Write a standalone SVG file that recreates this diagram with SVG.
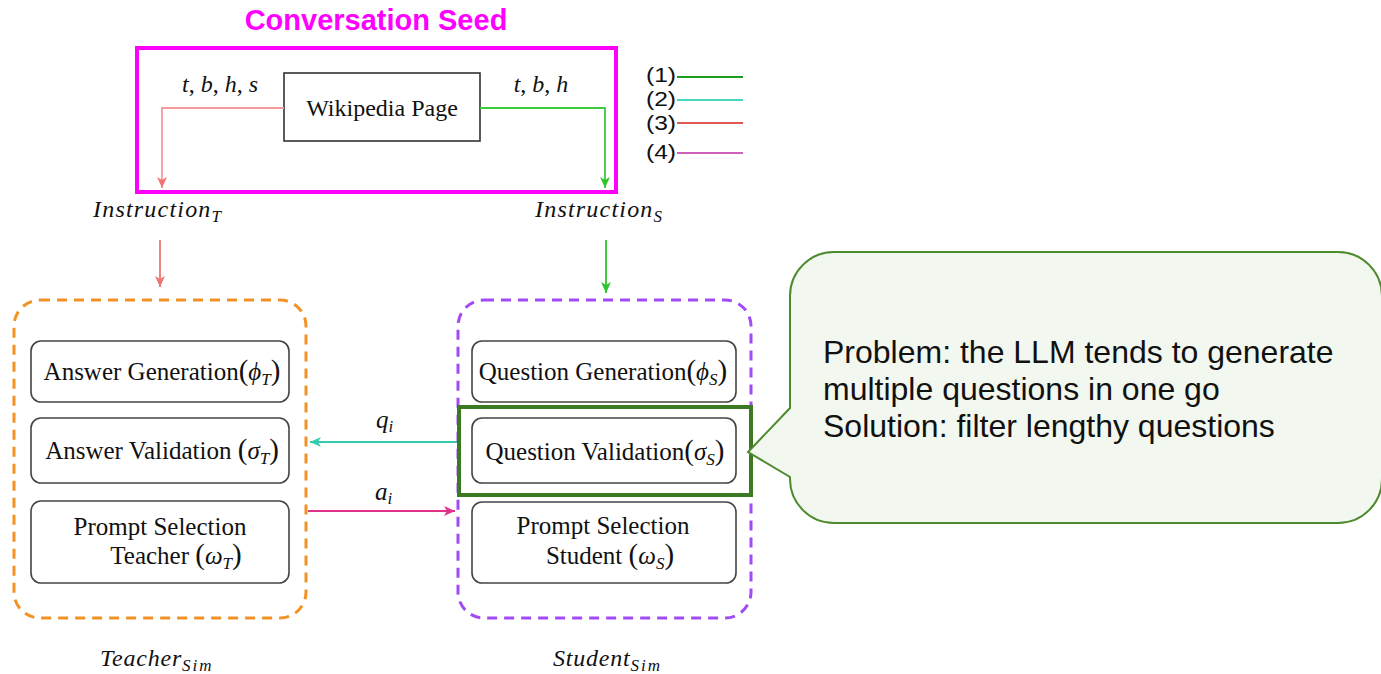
<svg xmlns="http://www.w3.org/2000/svg" width="1381" height="674" viewBox="0 0 1381 674">
  <style>
    .serif { font-family: "Liberation Serif", "DejaVu Serif", serif; fill: #111; }
    .sans { font-family: "Liberation Sans", Arial, sans-serif; fill: #111; }
    .box { fill: #fff; stroke: #444; stroke-width: 1.6; }
    .lbl { font-size: 24px; }
    .blbl { font-size: 25px; }
    .it { font-style: italic; }
    .par { font-size: 29px; }
    .sub { font-size: 17px; font-style: italic; }
    .math { font-size: 24px; font-style: italic; letter-spacing: 1.2px; }
    .conn { fill: none; stroke-width: 1.8; }
    .leg { stroke-width: 1.8; }
  </style>
  <defs>
    <marker id="ahRed" markerUnits="userSpaceOnUse" markerWidth="12" markerHeight="10" refX="11" refY="5" orient="auto">
      <path d="M0,0 L11,5 L0,10 L3,5 Z" fill="#F07474"/>
    </marker>
    <marker id="ahGreen" markerUnits="userSpaceOnUse" markerWidth="12" markerHeight="10" refX="11" refY="5" orient="auto">
      <path d="M0,0 L11,5 L0,10 L3,5 Z" fill="#2EC52E"/>
    </marker>
    <marker id="ahTeal" markerUnits="userSpaceOnUse" markerWidth="12" markerHeight="10" refX="11" refY="5" orient="auto">
      <path d="M0,0 L11,5 L0,10 L3,5 Z" fill="#36CBAE"/>
    </marker>
    <marker id="ahPink" markerUnits="userSpaceOnUse" markerWidth="12" markerHeight="10" refX="11" refY="5" orient="auto">
      <path d="M0,0 L11,5 L0,10 L3,5 Z" fill="#E2338A"/>
    </marker>
  </defs>

  <rect width="1381" height="674" fill="#fff"/>

  <!-- seed frame -->
  <g id="conversation-seed">
    <text x="376" y="30" text-anchor="middle" class="sans" style="font-size:29px;font-weight:bold;fill:#FF00FF">Conversation Seed</text>
    <rect x="137" y="48" width="479" height="144" fill="none" stroke="#FF00FF" stroke-width="4"/>
  </g>

  <g id="wikipedia-page">
    <rect x="284" y="73" width="196" height="68" fill="#fff" stroke="#333" stroke-width="1.6"/>
    <text x="382" y="116" text-anchor="middle" class="serif lbl">Wikipedia Page</text>
  </g>

  <!-- legend -->
  <g id="legend">
    <text x="646" y="82" class="sans" style="font-size:20px" textLength="30" lengthAdjust="spacingAndGlyphs">(1)</text>
    <text x="646" y="106" class="sans" style="font-size:20px" textLength="30" lengthAdjust="spacingAndGlyphs">(2)</text>
    <text x="646" y="130" class="sans" style="font-size:20px" textLength="30" lengthAdjust="spacingAndGlyphs">(3)</text>
    <text x="646" y="159" class="sans" style="font-size:20px" textLength="30" lengthAdjust="spacingAndGlyphs">(4)</text>
    <line x1="677" y1="77" x2="743" y2="77" class="leg" stroke="#1E9E1E"/>
    <line x1="677" y1="100" x2="743" y2="100" class="leg" stroke="#49D6C0"/>
    <line x1="677" y1="123" x2="743" y2="123" class="leg" stroke="#E05858"/>
    <line x1="677" y1="153" x2="743" y2="153" class="leg" stroke="#D060BE"/>
  </g>

  <!-- instruction labels -->
  <g id="instruction-t">
    <text x="93" y="217" class="serif math">Instruction<tspan class="sub" dy="5" style="letter-spacing:0">T</tspan></text>
  </g>
  <g id="instruction-s">
    <text x="535" y="217" class="serif math">Instruction<tspan class="sub" dy="5" style="letter-spacing:0">S</tspan></text>
  </g>

  <!-- connectors -->
  <g id="connectors">
    <path d="M284,108 H162 V188" class="conn" stroke="#F59A9A" marker-end="url(#ahRed)"/>
    <path d="M480,108 H605 V188" class="conn" stroke="#3DCB3D" marker-end="url(#ahGreen)"/>
    <path d="M160,240 V287" class="conn" stroke="#F07474" marker-end="url(#ahRed)"/>
    <path d="M606,240 V293" class="conn" stroke="#2EC52E" marker-end="url(#ahGreen)"/>
    <path d="M457,442 H310" class="conn" stroke="#36CBAE" marker-end="url(#ahTeal)"/>
    <path d="M308,511 H455" class="conn" stroke="#E2338A" marker-end="url(#ahPink)"/>
    <text x="220" y="92" text-anchor="middle" class="serif" style="font-size:24px"><tspan class="it">t</tspan>, <tspan class="it">b</tspan>, <tspan class="it">h</tspan>, <tspan class="it">s</tspan></text>
    <text x="541" y="92" text-anchor="middle" class="serif" style="font-size:24px"><tspan class="it">t</tspan>, <tspan class="it">b</tspan>, <tspan class="it">h</tspan></text>
    <text x="376" y="428" class="serif" style="font-size:25px"><tspan class="it">q</tspan><tspan class="sub" dy="4">i</tspan></text>
    <text x="375" y="500" class="serif" style="font-size:25px"><tspan class="it">a</tspan><tspan class="sub" dy="4">i</tspan></text>
  </g>

  <!-- teacher simulator -->
  <g id="teacher-sim">
    <rect x="14" y="300" width="292" height="318" rx="26" fill="none" stroke="#F39224" stroke-width="3" stroke-dasharray="10 7"/>
    <text x="100" y="666" class="serif math" style="letter-spacing:0.8px">Teacher<tspan class="sub" dy="5" style="letter-spacing:2px">Sim</tspan></text>
  </g>
  <g id="answer-generation">
    <rect x="31" y="341" width="258" height="61" rx="10" class="box"/>
    <text x="162" y="380" text-anchor="middle" class="serif blbl">Answer Generation<tspan class="par">(</tspan><tspan class="it">ϕ</tspan><tspan class="sub" dy="5">T</tspan><tspan class="par" dy="-5">)</tspan></text>
  </g>
  <g id="answer-validation">
    <rect x="31" y="418" width="258" height="65" rx="10" class="box"/>
    <text x="162" y="459" text-anchor="middle" class="serif blbl">Answer Validation <tspan class="par">(</tspan><tspan class="it">σ</tspan><tspan class="sub" dy="5">T</tspan><tspan class="par" dy="-5">)</tspan></text>
  </g>
  <g id="prompt-selection-teacher">
    <rect x="31" y="501" width="258" height="82" rx="10" class="box"/>
    <text x="160" y="535" text-anchor="middle" class="serif blbl">Prompt Selection</text>
    <text x="176" y="564" text-anchor="middle" class="serif blbl">Teacher <tspan class="par">(</tspan><tspan class="it">ω</tspan><tspan class="sub" dy="5">T</tspan><tspan class="par" dy="-5">)</tspan></text>
  </g>

  <!-- student simulator -->
  <g id="student-sim">
    <rect x="458" y="300" width="293" height="318" rx="26" fill="none" stroke="#A24BF5" stroke-width="3" stroke-dasharray="10 7"/>
    <text x="553" y="666" class="serif math" style="letter-spacing:0.8px">Student<tspan class="sub" dy="5" style="letter-spacing:2px">Sim</tspan></text>
  </g>
  <g id="question-generation">
    <rect x="472" y="341" width="264" height="61" rx="10" class="box"/>
    <text x="603" y="380" text-anchor="middle" class="serif blbl">Question Generation<tspan class="par">(</tspan><tspan class="it">ϕ</tspan><tspan class="sub" dy="5">S</tspan><tspan class="par" dy="-5">)</tspan></text>
  </g>
  <g id="question-validation">
    <rect x="472" y="418" width="264" height="65" rx="10" class="box"/>
    <text x="605" y="460" text-anchor="middle" class="serif blbl">Question Validation<tspan class="par">(</tspan><tspan class="it">σ</tspan><tspan class="sub" dy="5">S</tspan><tspan class="par" dy="-5">)</tspan></text>
    <rect x="459" y="407" width="292" height="88" fill="none" stroke="#3B7A22" stroke-width="4"/>
  </g>
  <g id="prompt-selection-student">
    <rect x="472" y="502" width="264" height="81" rx="10" class="box"/>
    <text x="603" y="534" text-anchor="middle" class="serif blbl">Prompt Selection</text>
    <text x="610" y="564" text-anchor="middle" class="serif blbl">Student <tspan class="par">(</tspan><tspan class="it">ω</tspan><tspan class="sub" dy="5">S</tspan><tspan class="par" dy="-5">)</tspan></text>
  </g>

  <!-- note callout -->
  <g id="note">
    <path d="M834,252 H1338 A44,44 0 0 1 1382,296 V479 A44,44 0 0 1 1338,523 H834 A44,44 0 0 1 790,479 V477 L748,452 L790,408 V296 A44,44 0 0 1 834,252 Z" fill="#F2F7EF" stroke="#4E8A2E" stroke-width="2"/>
    <text x="823" y="363" class="sans" style="font-size:32px">Problem: the LLM tends to generate</text>
    <text x="823" y="400" class="sans" style="font-size:32px">multiple questions in one go</text>
    <text x="823" y="437" class="sans" style="font-size:32px">Solution: filter lengthy questions</text>
  </g>
</svg>
